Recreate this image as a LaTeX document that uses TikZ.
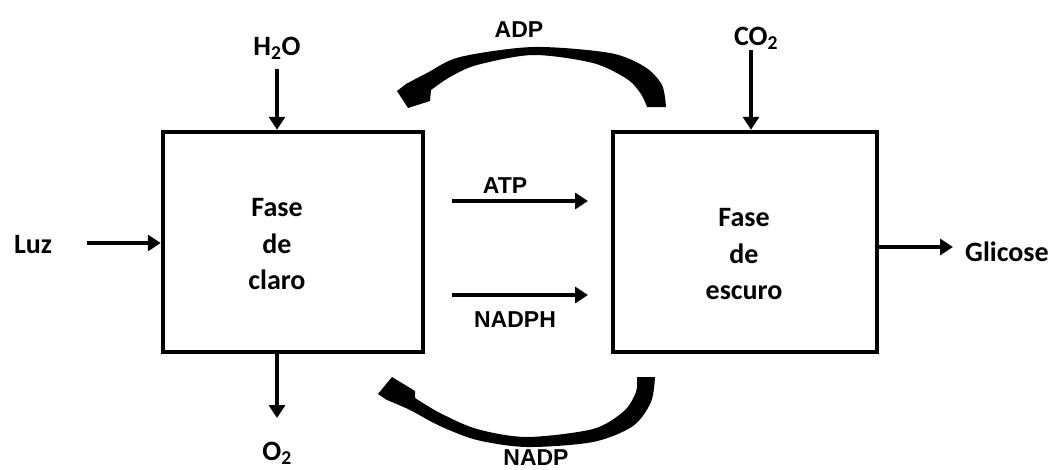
\documentclass[tikz,border=0pt]{standalone}
\usepackage{fontspec}
\setmainfont{Carlito}
\newfontfamily\arialfont{Liberation Sans}
\usetikzlibrary{arrows.meta}
\begin{document}
\begin{tikzpicture}[x=1pt,y=-1pt,
  box/.style={draw,line width=4.5pt,inner sep=0pt,minimum height=220pt},
  lbl/.style={font=\fontsize{28}{36.5}\selectfont\bfseries,align=center,inner sep=0pt},
  albl/.style={font=\fontsize{23}{28}\selectfont\arialfont\bfseries,inner sep=0pt},
  arr/.style={line width=4.5pt,-{Triangle[length=13pt,width=16pt]}},
  bigarrow/.style={fill=black}]
\useasboundingbox (0,0) rectangle (1056,469);

% boxes
\node[box,minimum width=260pt] (lbox) at (293,242) {};
\node[box,minimum width=264pt] (rbox) at (745,242) {};
\node[lbl] (ltext) at (277,244.5) {Fase\\de\\claro};
\node[lbl] (rtext) at (744,254.5) {Fase\\de\\escuro};

% labels
\node[lbl,anchor=base] (h2o) at (277,55) {H\textsubscript{2}O};
\node[lbl,anchor=base] (co2) at (756,45) {CO\textsubscript{2}};
\node[lbl,anchor=base] (luz) at (33,253) {Luz};
\node[lbl,anchor=base west] (glic) at (965,261) {Glicose};
\node[lbl,anchor=base] (o2) at (277,460) {O\textsubscript{2}};
\node[albl,anchor=base] (atp) at (505,193) {ATP};
\node[albl,anchor=base] (nadph) at (515,327) {NADPH};
\node[albl,anchor=base] (adp) at (519,37) {ADP};
\node[albl,anchor=base] (nadp) at (536,465) {NADP};

% straight arrows
\coordinate (h2oS) at (277,69);
\coordinate (co2S) at (751,50);
\coordinate (luzE) at (87,243);
\coordinate (glcW) at (953,247);
\coordinate (o2N) at (277,418);
\coordinate (atpW) at (452,201);
\coordinate (atpE) at (588,201);
\coordinate (nadphW) at (452,295);
\coordinate (nadphE) at (588,295);

\draw[arr] (h2oS) -- (h2oS |- lbox.north);
\draw[arr] (co2S) -- (co2S |- rbox.north);
\draw[arr] (luzE) -- (luzE -| lbox.west);
\draw[arr] (glcW -| rbox.east) -- (glcW);
\draw[arr] (o2N |- lbox.south) -- (o2N);
\draw[arr] (atpW) -- (atpE);
\draw[arr] (nadphW) -- (nadphE);

% curved arrow ADP (top)
\fill[bigarrow] plot[smooth] coordinates {(666,107) (662,85) (645,67) (610,53) (533,47) (460,57) (427,73) (406,84)}
  -- (397,91) -- (408,108) -- (430,101) -- (431,90)
  -- plot[smooth] coordinates {(431,90) (450,77) (477,65) (533,55) (593,63) (627,79) (641,94) (647,107)} -- cycle;

% curved arrow NADP (bottom)
\fill[bigarrow] plot[smooth] coordinates {(655,377) (651,402) (633,426) (593,442) (527,447) (477,440) (440,426) (410,410) (387,400)}
  -- (378,394) -- (392,377) -- (415,391) -- (415,398)
  -- plot[smooth] coordinates {(415,398) (440,413) (477,429) (527,437) (593,429) (624,411) (636,392) (637,377)} -- cycle;
\end{tikzpicture}
\end{document}
